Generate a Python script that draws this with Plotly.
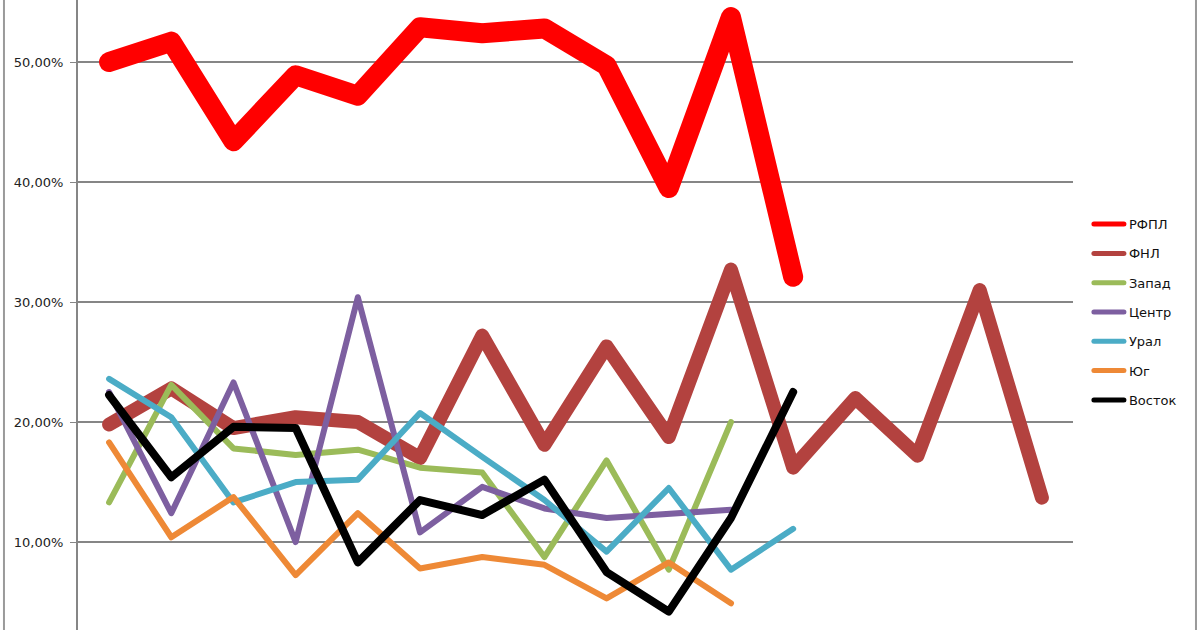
import plotly.graph_objects as go

categories = list(range(1, 17))

series_names = ["РФПЛ", "ФНЛ", "Запад", "Центр", "Урал", "Юг", "Восток"]

rfpl = [50.0, 51.7, 43.4, 48.9, 47.2, 52.9, 52.4, 52.8, 49.7, 39.5, 53.75, 32.1]
fnl = [19.8, 22.8, 19.5, 20.4, 20.0, 17.0, 27.2, 18.1, 26.3, 18.75, 32.7, 16.2, 22.0, 17.2, 31.0, 13.7]
zapad = [13.3, 23.1, 17.8, 17.25, 17.7, 16.2, 15.8, 8.75, 16.8, 7.7, 20.0]
centr = [22.5, 12.4, 23.3, 10.0, 30.4, 10.8, 14.6, 12.8, 12.0, 12.4, 12.7]
ural = [23.6, 20.4, 13.3, 15.0, 15.2, 20.75, 17.1, 13.5, 9.2, 14.5, 7.7, 11.1]
yug = [18.3, 10.4, 13.75, 7.25, 12.4, 7.8, 8.75, 8.1, 5.3, 8.3, 4.9]
vostok = [22.25, 15.4, 19.6, 19.5, 8.3, 13.5, 12.25, 15.2, 7.5, 4.2, 12.0, 22.5]

colors = ["#FF0000", "#B3423F", "#9BBB59", "#7D5FA0", "#4BACC6", "#EE8936", "#000000"]
widths = [20, 14, 6, 6, 6, 6, 8]

all_series = [rfpl, fnl, zapad, centr, ural, yug, vostok]

fig = go.Figure()
for name, vals, col, w in zip(series_names, all_series, colors, widths):
    fig.add_trace(go.Scatter(
        x=categories[:len(vals)],
        y=[v / 100 for v in vals],
        mode="lines",
        name=name,
        line=dict(color=col, width=w),
        legendgroup=name,
    ))

fig.update_layout(
    width=1200, height=630,
    margin=dict(l=78, r=127, t=0, b=0),
    paper_bgcolor="white", plot_bgcolor="white",
    separators=", ",
    font=dict(family="DejaVu Sans", size=12, color="#222222"),
    showlegend=True,
    legend=dict(
        x=1.016, y=0.668, xanchor="left", yanchor="top",
        font=dict(family="DejaVu Sans", size=13, color="#111111"),
        traceorder="grouped", tracegroupgap=9.4,
        itemwidth=30,
    ),
    xaxis=dict(
        range=[0.5, 16.5], showticklabels=False, showgrid=False,
        zeroline=False, showline=False, ticks="",
    ),
    yaxis=dict(
        range=[0.0267, 0.5517], tickvals=[0.1, 0.2, 0.3, 0.4, 0.5],
        tickformat=".2%", showgrid=True, gridcolor="#868686", gridwidth=1.5,
        zeroline=False, showline=True, linecolor="#868686", linewidth=2,
        ticks="outside", ticklen=6, tickcolor="#868686",
        ticklabelstandoff=4,
        tickfont=dict(family="DejaVu Sans", size=13, color="#222222"),
    ),
    shapes=[
        dict(type="line", xref="paper", yref="paper", x0=-0.0744, x1=-0.0744, y0=0, y1=1,
             line=dict(color="#9A9A9A", width=2)),
        dict(type="line", xref="paper", yref="paper", x0=1.1236, x1=1.1236, y0=0, y1=1,
             line=dict(color="#9A9A9A", width=2)),
    ],
)

post = """
document.body.style.margin = '0px';
var gd = document.getElementById('{plot_id}');
function styleLines() {
  gd.querySelectorAll('.scatterlayer path.js-line').forEach(function(p) {
    p.style.strokeLinejoin = 'round';
    p.style.strokeLinecap = 'round';
  });
  gd.querySelectorAll('.legend .legendlines path').forEach(function(p) {
    p.style.strokeWidth = '5px';
    p.style.strokeLinecap = 'round';
  });
}
styleLines();
gd.on('plotly_afterplot', styleLines);
"""

fig.write_html("out.html", post_script=post, config={"displayModeBar": False})
